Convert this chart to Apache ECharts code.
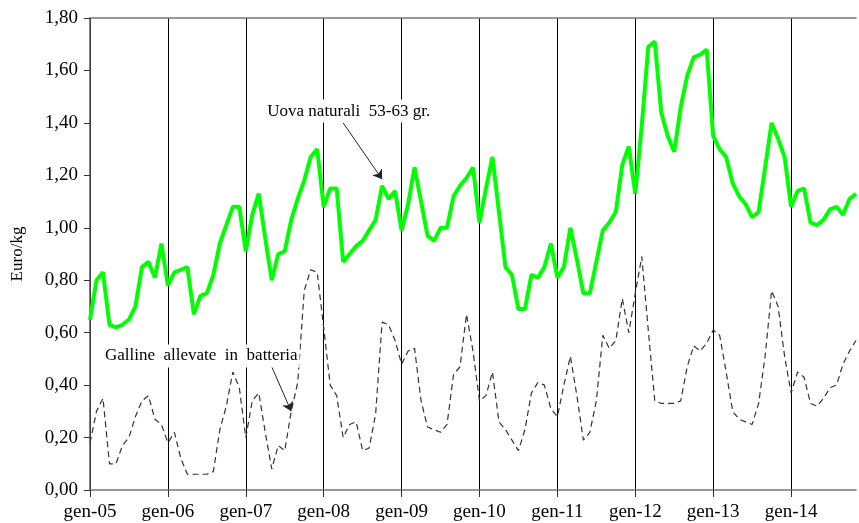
<!DOCTYPE html>
<html>
<head>
<meta charset="utf-8">
<script src="https://cdn.jsdelivr.net/npm/echarts@6/dist/echarts.min.js"></script>
<style>
    html, body { margin: 0; padding: 0; background: #fff; }
    #grafico { width: 859px; height: 523px; }
</style>
</head>
<body>
<div id="grafico"></div>
<script>
var anni = ['05', '06', '07', '08', '09', '10', '11', '12', '13', '14'];
var mesi = ['gen', 'feb', 'mar', 'apr', 'mag', 'giu', 'lug', 'ago', 'set', 'ott', 'nov', 'dic'];

// Uova naturali 53-63 gr. (euro/kg), gen-05 .. nov-14
var uova = [
    0.65, 0.80, 0.83, 0.63, 0.62, 0.63, 0.65, 0.70, 0.85, 0.87, 0.81, 0.94,
    0.78, 0.83, 0.84, 0.85, 0.67, 0.74, 0.75, 0.82, 0.94, 1.01, 1.08, 1.08,
    0.91, 1.05, 1.13, 0.96, 0.80, 0.90, 0.91, 1.03, 1.11, 1.18, 1.27, 1.30,
    1.08, 1.15, 1.15, 0.87, 0.90, 0.93, 0.95, 0.99, 1.03, 1.16, 1.11, 1.14,
    0.99, 1.09, 1.23, 1.10, 0.97, 0.95, 1.00, 1.00, 1.12, 1.16, 1.19, 1.23,
    1.02, 1.15, 1.27, 1.06, 0.85, 0.82, 0.69, 0.69, 0.82, 0.81, 0.85, 0.94,
    0.81, 0.85, 1.00, 0.88, 0.75, 0.75, 0.87, 0.99, 1.02, 1.06, 1.24, 1.31,
    1.13, 1.39, 1.69, 1.71, 1.44, 1.35, 1.29, 1.46, 1.58, 1.65, 1.66, 1.68,
    1.35, 1.30, 1.27, 1.17, 1.12, 1.09, 1.04, 1.06, 1.23, 1.40, 1.34, 1.27,
    1.08, 1.14, 1.15, 1.02, 1.01, 1.03, 1.07, 1.08, 1.05, 1.11, 1.13
];

// Galline allevate in batteria (euro/kg)
var galline = [
    0.18, 0.30, 0.35, 0.10, 0.10, 0.17, 0.20, 0.28, 0.34, 0.36, 0.27, 0.25,
    0.18, 0.22, 0.12, 0.06, 0.06, 0.06, 0.06, 0.07, 0.23, 0.32, 0.45, 0.39,
    0.20, 0.34, 0.37, 0.22, 0.08, 0.17, 0.15, 0.30, 0.41, 0.76, 0.84, 0.83,
    0.62, 0.40, 0.36, 0.20, 0.25, 0.26, 0.15, 0.16, 0.29, 0.64, 0.63, 0.57,
    0.48, 0.53, 0.54, 0.34, 0.24, 0.23, 0.22, 0.25, 0.44, 0.47, 0.67, 0.53,
    0.34, 0.36, 0.45, 0.26, 0.23, 0.19, 0.15, 0.23, 0.37, 0.41, 0.40, 0.31,
    0.28, 0.40, 0.51, 0.36, 0.19, 0.22, 0.34, 0.59, 0.54, 0.57, 0.73, 0.60,
    0.75, 0.89, 0.61, 0.34, 0.33, 0.33, 0.33, 0.34, 0.47, 0.55, 0.53, 0.56,
    0.61, 0.59, 0.45, 0.30, 0.27, 0.26, 0.25, 0.33, 0.51, 0.76, 0.70, 0.51,
    0.37, 0.45, 0.43, 0.33, 0.32, 0.35, 0.39, 0.40, 0.48, 0.53, 0.57
];

var categorie = [];
for (var a = 0; a < anni.length; a++) {
    for (var m = 0; m < 12; m++) {
        if (categorie.length < uova.length) categorie.push(mesi[m] + '-' + anni[a]);
    }
}

// etichette e frecce: [indice mese, valore]
var etichettaUova = { testo: 'Uova naturali  53-63 gr.', pos: [27.4, 1.445] };
var frecciaUova = [[39, 1.40], [45, 1.185]];
var etichettaGalline = { testo: 'Galline  allevate  in  batteria', pos: [1.7, 0.511] };
var frecciaGalline = [[28, 0.47], [31, 0.30]];

var font = "'Liberation Serif', 'Times New Roman', serif";
var myChart = echarts.init(document.getElementById('grafico'));

var option = {
    animation: false,
    grid: { left: 90, right: 3, top: 18, bottom: 33, containLabel: false, outerBoundsMode: 'none' },
    xAxis: [
        {
            type: 'category',
            data: categorie,
            boundaryGap: false,
            axisLine: { lineStyle: { color: '#777', width: 1.5 } },
            axisTick: { interval: 11, length: 7, lineStyle: { color: '#333' } },
            splitLine: { show: true, interval: 11, lineStyle: { color: '#000', width: 1 } },
            axisLabel: { interval: 11, margin: 13, color: '#000', fontFamily: font, fontSize: 19 }
        },
        {
            type: 'category',
            position: 'top',
            data: categorie,
            boundaryGap: false,
            axisLine: { lineStyle: { color: '#777', width: 1.5 } },
            axisTick: { show: false },
            axisLabel: { show: false }
        }
    ],
    yAxis: {
        type: 'value',
        min: 0,
        max: 1.8,
        interval: 0.2,
        name: 'Euro/kg',
        nameLocation: 'middle',
        nameRotate: 90,
        nameGap: 64,
        nameTextStyle: { color: '#000', fontFamily: font, fontSize: 17 },
        axisLine: { show: true, lineStyle: { color: '#555', width: 1.5 } },
        axisTick: { show: true, length: 6, lineStyle: { color: '#333' } },
        splitLine: { show: false },
        axisLabel: {
            margin: 12,
            color: '#000',
            fontFamily: font,
            fontSize: 19,
            formatter: function (v) { return v.toFixed(2).replace('.', ','); }
        }
    },
    series: [
        {
            name: 'Uova naturali 53-63 gr.',
            type: 'line',
            data: uova,
            symbol: 'none',
            lineStyle: { color: '#00ff00', width: 4 },
            z: 3,
            markLine: {
                silent: true,
                symbol: ['none', 'arrow'],
                symbolSize: 9,
                label: { show: false },
                lineStyle: { color: '#222', width: 1, type: 'solid' },
                data: [
                    [{ coord: frecciaUova[0] }, { coord: frecciaUova[1] }],
                    [{ coord: frecciaGalline[0] }, { coord: frecciaGalline[1] }]
                ]
            }
        },
        {
            name: 'Galline allevate in batteria',
            type: 'line',
            data: galline,
            symbol: 'none',
            lineStyle: { color: '#333', width: 1.2, type: [6, 4] },
            z: 2
        }
    ]
};

myChart.setOption(option);

function testo(et) {
    var p = myChart.convertToPixel({ gridIndex: 0 }, et.pos);
    return {
        type: 'text',
        x: p[0],
        y: p[1],
        z: 100,
        style: {
            text: et.testo,
            font: '17px ' + font,
            fill: '#000',
            verticalAlign: 'middle',
            backgroundColor: '#fff',
            padding: [3, 2]
        }
    };
}

myChart.setOption({
    graphic: [testo(etichettaUova), testo(etichettaGalline)]
});
</script>
</body>
</html>
